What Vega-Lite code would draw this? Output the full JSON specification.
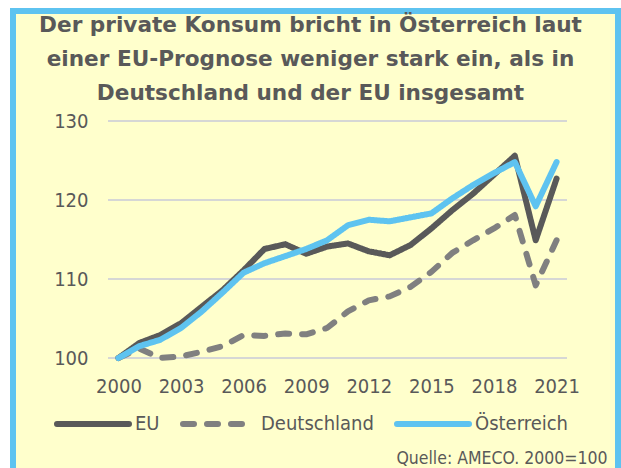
{
  "$schema": "https://vega.github.io/schema/vega-lite/v6.json",
  "width": 605,
  "height": 470,
  "autosize": {"type": "none"},
  "padding": {"left": 13, "top": 11, "right": 3, "bottom": -13},
  "background": "white",
  "config": {
    "view": {"fill": "#FFFFCC", "stroke": "#5EC3F0", "strokeWidth": 6},
    "font": "DejaVu Sans Condensed"
  },
  "title": {
    "text": ["Der private Konsum bricht in Österreich laut", "einer EU-Prognose weniger stark ein, als in", "Deutschland und der EU insgesamt"],
    "anchor": "middle",
    "frame": "group",
    "font": "DejaVu Sans",
    "fontSize": 21.6,
    "fontWeight": "bold",
    "color": "#595959",
    "lineHeight": 34,
    "baseline": "top",
    "offset": 0,
    "dx": -5,
    "dy": 94
  },
  "datasets": {
    "grid": [{"v": 100}, {"v": 110}, {"v": 120}, {"v": 130}],
    "konsum": [
      {"Jahr": 2000, "Land": "EU", "Wert": 100.0},
      {"Jahr": 2001, "Land": "EU", "Wert": 101.9},
      {"Jahr": 2002, "Land": "EU", "Wert": 102.9},
      {"Jahr": 2003, "Land": "EU", "Wert": 104.4},
      {"Jahr": 2004, "Land": "EU", "Wert": 106.5},
      {"Jahr": 2005, "Land": "EU", "Wert": 108.6},
      {"Jahr": 2006, "Land": "EU", "Wert": 111.1},
      {"Jahr": 2007, "Land": "EU", "Wert": 113.8},
      {"Jahr": 2008, "Land": "EU", "Wert": 114.4},
      {"Jahr": 2009, "Land": "EU", "Wert": 113.2},
      {"Jahr": 2010, "Land": "EU", "Wert": 114.1},
      {"Jahr": 2011, "Land": "EU", "Wert": 114.5},
      {"Jahr": 2012, "Land": "EU", "Wert": 113.5},
      {"Jahr": 2013, "Land": "EU", "Wert": 113.0},
      {"Jahr": 2014, "Land": "EU", "Wert": 114.3},
      {"Jahr": 2015, "Land": "EU", "Wert": 116.4},
      {"Jahr": 2016, "Land": "EU", "Wert": 118.7},
      {"Jahr": 2017, "Land": "EU", "Wert": 120.8},
      {"Jahr": 2018, "Land": "EU", "Wert": 123.2},
      {"Jahr": 2019, "Land": "EU", "Wert": 125.6},
      {"Jahr": 2020, "Land": "EU", "Wert": 114.9},
      {"Jahr": 2021, "Land": "EU", "Wert": 122.7},
      {"Jahr": 2000, "Land": "Deutschland", "Wert": 100.0},
      {"Jahr": 2001, "Land": "Deutschland", "Wert": 101.2},
      {"Jahr": 2002, "Land": "Deutschland", "Wert": 100.0},
      {"Jahr": 2003, "Land": "Deutschland", "Wert": 100.2},
      {"Jahr": 2004, "Land": "Deutschland", "Wert": 100.8},
      {"Jahr": 2005, "Land": "Deutschland", "Wert": 101.5},
      {"Jahr": 2006, "Land": "Deutschland", "Wert": 102.9},
      {"Jahr": 2007, "Land": "Deutschland", "Wert": 102.8},
      {"Jahr": 2008, "Land": "Deutschland", "Wert": 103.1},
      {"Jahr": 2009, "Land": "Deutschland", "Wert": 103.0},
      {"Jahr": 2010, "Land": "Deutschland", "Wert": 103.8},
      {"Jahr": 2011, "Land": "Deutschland", "Wert": 105.9},
      {"Jahr": 2012, "Land": "Deutschland", "Wert": 107.3},
      {"Jahr": 2013, "Land": "Deutschland", "Wert": 107.8},
      {"Jahr": 2014, "Land": "Deutschland", "Wert": 109.0},
      {"Jahr": 2015, "Land": "Deutschland", "Wert": 110.9},
      {"Jahr": 2016, "Land": "Deutschland", "Wert": 113.3},
      {"Jahr": 2017, "Land": "Deutschland", "Wert": 114.9},
      {"Jahr": 2018, "Land": "Deutschland", "Wert": 116.4},
      {"Jahr": 2019, "Land": "Deutschland", "Wert": 118.1},
      {"Jahr": 2020, "Land": "Deutschland", "Wert": 109.2},
      {"Jahr": 2021, "Land": "Deutschland", "Wert": 114.9},
      {"Jahr": 2000, "Land": "Österreich", "Wert": 100.0},
      {"Jahr": 2001, "Land": "Österreich", "Wert": 101.5},
      {"Jahr": 2002, "Land": "Österreich", "Wert": 102.3},
      {"Jahr": 2003, "Land": "Österreich", "Wert": 103.8},
      {"Jahr": 2004, "Land": "Österreich", "Wert": 105.9},
      {"Jahr": 2005, "Land": "Österreich", "Wert": 108.3},
      {"Jahr": 2006, "Land": "Österreich", "Wert": 110.8},
      {"Jahr": 2007, "Land": "Österreich", "Wert": 112.0},
      {"Jahr": 2008, "Land": "Österreich", "Wert": 112.9},
      {"Jahr": 2009, "Land": "Österreich", "Wert": 113.8},
      {"Jahr": 2010, "Land": "Österreich", "Wert": 114.9},
      {"Jahr": 2011, "Land": "Österreich", "Wert": 116.8},
      {"Jahr": 2012, "Land": "Österreich", "Wert": 117.5},
      {"Jahr": 2013, "Land": "Österreich", "Wert": 117.3},
      {"Jahr": 2014, "Land": "Österreich", "Wert": 117.8},
      {"Jahr": 2015, "Land": "Österreich", "Wert": 118.3},
      {"Jahr": 2016, "Land": "Österreich", "Wert": 120.2},
      {"Jahr": 2017, "Land": "Österreich", "Wert": 121.9},
      {"Jahr": 2018, "Land": "Österreich", "Wert": 123.4},
      {"Jahr": 2019, "Land": "Österreich", "Wert": 124.8},
      {"Jahr": 2020, "Land": "Österreich", "Wert": 119.2},
      {"Jahr": 2021, "Land": "Österreich", "Wert": 124.8}
    ]
  },
  "layer": [
    {
      "data": {"name": "grid"},
      "mark": {"type": "rule", "color": "#C8CAD8", "strokeWidth": 1.5},
      "encoding": {
        "y": {"field": "v", "type": "quantitative", "title": null},
        "x": {"datum": 1999.5, "type": "quantitative"},
        "x2": {"datum": 2021.5}
      }
    },
    {
      "data": {"name": "konsum"},
      "mark": {"type": "line", "strokeWidth": 6, "strokeCap": "round", "strokeJoin": "round"},
      "encoding": {
        "x": {
          "field": "Jahr",
          "type": "quantitative",
          "scale": {"domain": [1999.5, 2021.5], "range": [95, 554], "nice": false, "zero": false},
          "axis": {
            "values": [2000, 2003, 2006, 2009, 2012, 2015, 2018, 2021],
            "format": "d",
            "domain": false,
            "ticks": false,
            "grid": false,
            "labelPadding": 0,
            "offset": -105,
            "labelFont": "DejaVu Sans Condensed",
            "labelFontSize": 20,
            "labelColor": "#595959",
            "labelFlush": false,
            "labelOverlap": false,
            "title": "Quelle: AMECO. 2000=100",
            "titleFont": "DejaVu Sans Condensed",
            "titleFontSize": 17.5,
            "titleFontWeight": "normal",
            "titleColor": "#595959",
            "titleAnchor": "end",
            "titleAlign": "right",
            "titleBaseline": "alphabetic",
            "titleX": 594,
            "titleY": 87
          }
        },
        "y": {
          "field": "Wert",
          "type": "quantitative",
          "scale": {"domain": [100, 130], "range": [347, 110], "nice": false, "zero": false},
          "axis": {
            "values": [100, 110, 120, 130],
            "domain": false,
            "ticks": false,
            "grid": false,
            "labelPadding": 0,
            "offset": -75,
            "labelFont": "DejaVu Sans Condensed",
            "labelFontSize": 20,
            "labelColor": "#595959",
            "title": null
          }
        },
        "color": {
          "field": "Land",
          "type": "nominal",
          "scale": {"domain": ["EU", "Deutschland", "Österreich"], "range": ["#595959", "#808080", "#5EC3F0"]},
          "legend": {
            "orient": "none",
            "legendX": 41,
            "legendY": 374,
            "direction": "horizontal",
            "title": null,
            "symbolType": "stroke",
            "symbolSize": 5184,
            "symbolStrokeWidth": 6,
            "labelFont": "DejaVu Sans Condensed",
            "labelFontSize": 20,
            "labelColor": "#595959",
            "labelOffset": 3,
            "columnPadding": 11,
            "padding": 0,
            "encode": {"symbols": {"update": {"strokeCap": {"value": "round"}}}}
          }
        },
        "strokeDash": {
          "field": "Land",
          "type": "nominal",
          "scale": {"domain": ["EU", "Deutschland", "Österreich"], "range": [[1, 0], [11, 13], [1, 0]]},
          "legend": {
            "orient": "none",
            "legendX": 41,
            "legendY": 374,
            "direction": "horizontal",
            "title": null,
            "symbolType": "stroke",
            "symbolSize": 5184,
            "symbolStrokeWidth": 6,
            "labelFont": "DejaVu Sans Condensed",
            "labelFontSize": 20,
            "labelColor": "#595959",
            "labelOffset": 3,
            "columnPadding": 11,
            "padding": 0,
            "encode": {"symbols": {"update": {"strokeCap": {"value": "round"}}}}
          }
        }
      }
    }
  ]
}
